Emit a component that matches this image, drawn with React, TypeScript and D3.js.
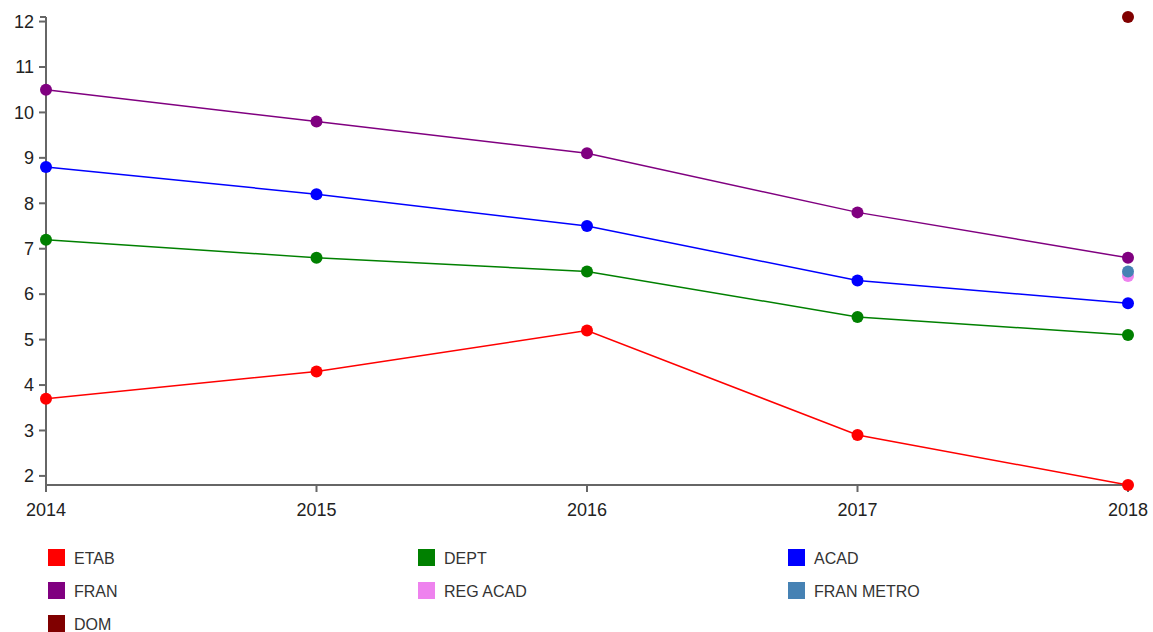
import React from "react";
import * as d3 from "d3";

const years = [2014, 2015, 2016, 2017, 2018];
const seriesNames = ["ETAB", "DEPT", "ACAD", "FRAN", "REG ACAD", "FRAN METRO", "DOM"];
const seriesColors = ["red", "green", "blue", "purple", "violet", "steelblue", "maroon"];
const etab = [3.7, 4.3, 5.2, 2.9, 1.8];
const dept = [7.2, 6.8, 6.5, 5.5, 5.1];
const acad = [8.8, 8.2, 7.5, 6.3, 5.8];
const fran = [10.5, 9.8, 9.1, 7.8, 6.8];
const regAcad = [null, null, null, null, 6.4];
const franMetro = [null, null, null, null, 6.5];
const dom = [null, null, null, null, 12.1];
const yTicks = [2, 3, 4, 5, 6, 7, 8, 9, 10, 11, 12];

const allSeries: (number | null)[][] = [etab, dept, acad, fran, regAcad, franMetro, dom];

export default function App() {
  const W = 1153, H = 632;
  const left = 46, right = 1128, top = 17, bottom = 485;
  const x = d3.scaleLinear().domain([2014, 2018]).range([left, right]);
  const y = d3.scaleLinear().domain([1.8, 12.1]).range([bottom, top]);
  const line = d3
    .line<[number, number | null]>()
    .defined((d) => d[1] != null)
    .x((d) => x(d[0]))
    .y((d) => y(d[1] as number));
  const axisColor = "#666";
  const font = "Arial, 'Liberation Sans', sans-serif";

  return (
    <svg width={W} height={H} style={{ position: "absolute", left: 0, top: 0 }} fontFamily={font}>
      <g>
        <line x1={left} x2={left} y1={top} y2={bottom} stroke={axisColor} strokeWidth={2} />
        <line x1={left - 6} x2={left} y1={top} y2={top} stroke={axisColor} strokeWidth={2} />
        <line x1={left} x2={right} y1={bottom} y2={bottom} stroke={axisColor} strokeWidth={2} />
        <line x1={left} x2={left} y1={bottom} y2={bottom + 6} stroke={axisColor} strokeWidth={2} />
        <line x1={right} x2={right} y1={bottom} y2={bottom + 6} stroke={axisColor} strokeWidth={2} />
        {yTicks.map((t) => (
          <g key={t} transform={`translate(0,${y(t)})`}>
            <line x1={left - 7} x2={left} stroke={axisColor} strokeWidth={2} />
            <text x={left - 12} dy="0.35em" textAnchor="end" fontSize={18} fill="#222">
              {t}
            </text>
          </g>
        ))}
        {years.map((t) => (
          <g key={t} transform={`translate(${x(t)},0)`}>
            <line y1={bottom} y2={bottom + 7} stroke={axisColor} strokeWidth={2} />
            <text y={bottom + 31} textAnchor="middle" fontSize={18} fill="#222">
              {t}
            </text>
          </g>
        ))}
      </g>
      {allSeries.map((vals, i) => {
        const pts = years.map((yr, j) => [yr, vals[j]] as [number, number | null]);
        return (
          <g key={seriesNames[i]}>
            <path d={line(pts) || ""} fill="none" stroke={seriesColors[i]} strokeWidth={1.5} />
            {pts
              .filter((p) => p[1] != null)
              .map((p) => (
                <circle key={p[0]} cx={x(p[0])} cy={y(p[1] as number)} r={6} fill={seriesColors[i]} />
              ))}
          </g>
        );
      })}
      {seriesNames.map((name, i) => {
        const col = i % 3;
        const row = Math.floor(i / 3);
        const lx = 48 + col * 370;
        const ly = 549 + row * 33;
        return (
          <g key={name} transform={`translate(${lx},${ly})`}>
            <rect width={17} height={17} fill={seriesColors[i]} />
            <text x={26} y={15} fontSize={16} fill="#333">
              {name}
            </text>
          </g>
        );
      })}
    </svg>
  );
}
